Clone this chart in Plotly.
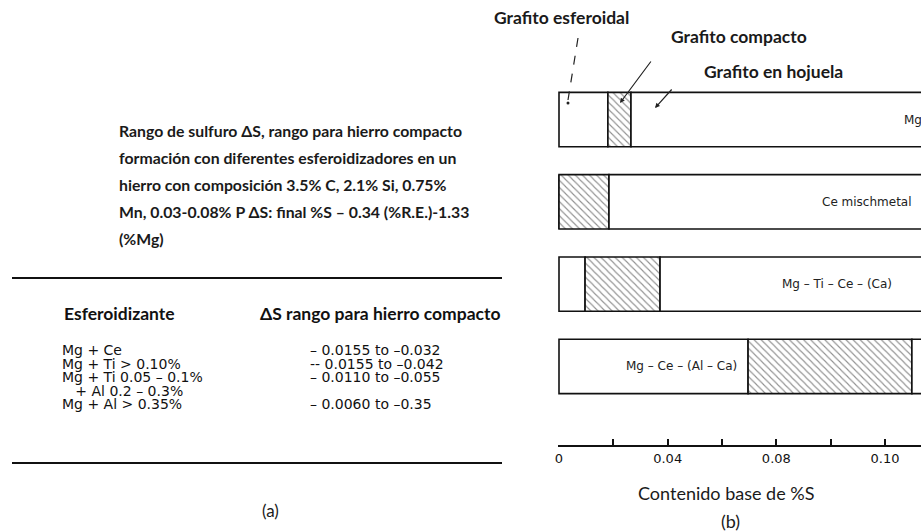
import plotly.graph_objects as go

W, H = 921, 531

# ---------------- data ----------------
esferoidizadores = ["Mg", "Ce mischmetal", "Mg – Ti – Ce – (Ca)", "Mg – Ce – (Al – Ca)"]
# %S limits of each graphite region (base sulfur content)
limite_esferoidal = [0.0180, 0.0, 0.0096, 0.0696]   # end of spheroidal graphite range
limite_compacto = [0.0265, 0.0184, 0.0372, 0.1299]  # end of compacted graphite range
limite_hojuela = [0.20, 0.20, 0.20, 0.20]           # flake graphite continues beyond view

tick_vals = [0, 0.02, 0.04, 0.06, 0.08, 0.10, 0.12]
tick_text = ["0", "", "0.04", "", "0.08", "", "0.10"]

tabla_esferoidizante = ["Mg + Ce", "Mg + Ti > 0.10%", "Mg + Ti 0.05 – 0.1%", "   + Al 0.2 – 0.3%", "Mg + Al > 0.35%"]
tabla_rango = ["– 0.0155 to –0.032", "-- 0.0155 to –0.042", "– 0.0110 to –0.055", "", "– 0.0060 to –0.35"]

parrafo = [
    "Rango de sulfuro ΔS, rango para hierro compacto",
    "formación con diferentes esferoidizadores en un",
    "hierro con composición 3.5% C, 2.1% Si, 0.75%",
    "Mn, 0.03-0.08% P ΔS: final %S – 0.34 (%R.E.)-1.33",
    "(%Mg)",
]

# --------------- helpers ----------------
def px(x):
    return x / W

def py(y):
    return 1 - y / H

base_esf = [0.0] * 4
ancho_esf = [e - b for e, b in zip(limite_esferoidal, base_esf)]
ancho_comp = [c - e for c, e in zip(limite_compacto, limite_esferoidal)]
ancho_hoj = [h - c for h, c in zip(limite_hojuela, limite_compacto)]

outline = dict(color="#111", width=1.6)
fig = go.Figure()
fig.add_trace(go.Bar(y=esferoidizadores, x=ancho_esf, base=base_esf, orientation="h",
                     marker=dict(color="white", line=outline), width=0.66, showlegend=False,
                     hoverinfo="skip"))
fig.add_trace(go.Bar(y=esferoidizadores, x=ancho_comp, base=limite_esferoidal, orientation="h",
                     marker=dict(color="white", line=outline,
                                 pattern=dict(shape="\\", fgcolor="#222", bgcolor="white",
                                              size=5, solidity=0.22)),
                     width=0.66, showlegend=False, hoverinfo="skip"))
fig.add_trace(go.Bar(y=esferoidizadores, x=ancho_hoj, base=limite_compacto, orientation="h",
                     marker=dict(color="white", line=outline), width=0.66, showlegend=False,
                     hoverinfo="skip"))

x0 = 559.0
scale = 2716.7
fig.update_layout(
    width=W, height=H, margin=dict(l=0, r=0, t=0, b=0, autoexpand=False),
    paper_bgcolor="white", plot_bgcolor="white", barmode="overlay",
    xaxis=dict(domain=[558 / W, 1], range=[(558 - x0) / scale, (921 - x0) / scale],
               automargin=False,
               showgrid=False, zeroline=False, showline=True, linecolor="#111", linewidth=2,
               ticks="inside", ticklen=6, tickwidth=1.5, tickcolor="#111",
               tickvals=tick_vals, ticktext=tick_text,
               tickfont=dict(family="DejaVu Sans, Verdana", size=13, color="#111")),
    yaxis=dict(domain=[(H - 445) / H, (H - 80) / H], type="category", automargin=False,
               categoryorder="array", categoryarray=esferoidizadores,
               range=[3.954, -0.48], showgrid=False, zeroline=False, showline=False,
               showticklabels=False, ticks=""),
)

ann = []
calibri = "Lato, Carlito, Calibri, sans-serif"
wide = "DejaVu Sans, Verdana, sans-serif"

# bar labels
lab_font = dict(family=wide, size=12, color="#222")
ann.append(dict(x=0.1263, y=esferoidizadores[0], xref="x", yref="y", text="Mg", showarrow=False,
                xanchor="left", font=lab_font))
ann.append(dict(x=0.0961, y=esferoidizadores[1], xref="x", yref="y", text="Ce mischmetal", showarrow=False,
                xanchor="left", font=lab_font))
ann.append(dict(x=0.0813, y=esferoidizadores[2], xref="x", yref="y", text="Mg – Ti – Ce – (Ca)", showarrow=False,
                xanchor="left", font=lab_font))
ann.append(dict(x=0.0663, y=esferoidizadores[3], xref="x", yref="y", text="Mg – Ce – (Al – Ca)", showarrow=False,
                xanchor="right", font=lab_font))

# top labels
for t, cx, cy in [("Grafito esferoidal", 561, 17), ("Grafito compacto", 739, 36), ("Grafito en hojuela", 773, 72)]:
    ann.append(dict(x=px(cx), y=py(cy), xref="paper", yref="paper", text="<b>" + t + "</b>", showarrow=False,
                    xanchor="center", yanchor="middle", font=dict(family=calibri, size=17.5, color="#1a1a1a")))

# axis title and (b)
ann.append(dict(x=px(726), y=py(493), xref="paper", yref="paper", text="Contenido base de %S", showarrow=False,
                xanchor="center", yanchor="middle", font=dict(family=calibri, size=18, color="#1a1a1a")))
ann.append(dict(x=px(730), y=py(521), xref="paper", yref="paper", text="(b)", showarrow=False,
                xanchor="center", yanchor="middle", font=dict(family=calibri, size=18, color="#1a1a1a")))

# arrows (solid)
for (hx, hy, tx, ty) in [(620, 103, 652, 60), (655, 108, 673, 88)]:
    ann.append(dict(x=px(hx), y=py(hy), xref="paper", yref="paper", ax=tx - hx, ay=ty - hy,
                    axref="pixel", ayref="pixel", text="", showarrow=True, arrowhead=2,
                    arrowsize=0.8, arrowwidth=1.2, arrowcolor="#222"))

# left paragraph
for i, line in enumerate(parrafo):
    ann.append(dict(x=px(117), y=py(130 + i * 27.2), xref="paper", yref="paper", text="<b>" + line + "</b>",
                    showarrow=False, xanchor="left", yanchor="middle",
                    font=dict(family=calibri, size=15.8, color="#1a1a1a")))

# table headers
ann.append(dict(x=px(62), y=py(313), xref="paper", yref="paper", text="<b>Esferoidizante</b>", showarrow=False,
                xanchor="left", yanchor="middle", font=dict(family=calibri, size=17.5, color="#111")))
ann.append(dict(x=px(258), y=py(313), xref="paper", yref="paper", text="<b>ΔS rango para hierro compacto</b>",
                showarrow=False, xanchor="left", yanchor="middle",
                font=dict(family=calibri, size=17.5, color="#111")))

row_y = [350, 363.5, 377, 390.5, 404]
row_font = dict(family=wide, size=14, color="#111")
for i, (a, b) in enumerate(zip(tabla_esferoidizante, tabla_rango)):
    ann.append(dict(x=px(60), y=py(row_y[i]), xref="paper", yref="paper", text=a.replace("   ", "&nbsp;&nbsp;&nbsp;"),
                    showarrow=False, xanchor="left", yanchor="middle", font=row_font))
    if b:
        ann.append(dict(x=px(308), y=py(row_y[i]), xref="paper", yref="paper", text=b,
                        showarrow=False, xanchor="left", yanchor="middle", font=row_font))

ann.append(dict(x=px(270), y=py(510), xref="paper", yref="paper", text="(a)", showarrow=False,
                xanchor="center", yanchor="middle", font=dict(family=calibri, size=17, color="#1a1a1a")))

fig.update_layout(annotations=ann)

shapes = [
    dict(type="line", xref="paper", yref="paper", x0=px(12), x1=px(502), y0=py(278), y1=py(278),
         line=dict(color="#111", width=2.2)),
    dict(type="line", xref="paper", yref="paper", x0=px(12), x1=px(502), y0=py(463), y1=py(463),
         line=dict(color="#111", width=2.2)),
    dict(type="line", xref="paper", yref="paper", x0=px(578), x1=px(568), y0=py(38), y1=py(100),
         line=dict(color="#222", width=1.2, dash="dash")),
    dict(type="circle", xref="paper", yref="paper", x0=px(566.5), x1=px(569.5), y0=py(101.5), y1=py(104.5),
         fillcolor="#222", line=dict(color="#222", width=0)),
]
fig.update_layout(shapes=shapes)

fig.write_html("out.html", config={"displayModeBar": False},
               post_script="document.body.style.margin='0px';document.body.style.overflow='hidden';")
